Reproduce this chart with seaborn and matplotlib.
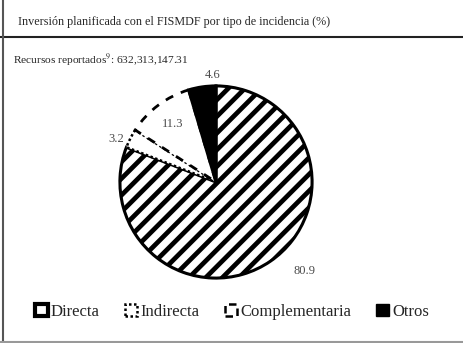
import numpy as np
import matplotlib
matplotlib.use("Agg")
import matplotlib.pyplot as plt
import seaborn as sns
from matplotlib.patches import Patch
from matplotlib.lines import Line2D

# ── data ──────────────────────────────────────────────
categories = ["Directa", "Indirecta", "Complementaria", "Otros"]
values = [80.9, 3.2, 11.3, 4.6]
value_labels = ["80.9", "3.2", "11.3", "4.6"]

title = "Inversión planificada con el FISMDF por tipo de incidencia (%)"
subtitle = "Recursos reportados$^{9}$: 632,313,147.31"

# ── style ─────────────────────────────────────────────
sns.set_style("white")
plt.rcParams["font.family"] = ["Liberation Serif", "DejaVu Serif"]
plt.rcParams["mathtext.fontset"] = "stix"
plt.rcParams["hatch.linewidth"] = 3.4

fig = plt.figure(figsize=(4.64, 3.43), dpi=100)

# pie axes: centre ~(216,182) px, radius ~98 px
W, H = 464, 343
cx, cy, r = 216, 182, 98
ax = fig.add_axes([(cx - r) / W, (H - cy - r) / H, 2 * r / W, 2 * r / H])

wedges, _ = ax.pie(values, startangle=90, counterclock=False, radius=1,
                   colors=["white", "white", "white", "black"],
                   wedgeprops=dict(edgecolor="black", linewidth=2.2))
ax.set_xlim(-1.02, 1.02)
ax.set_ylim(-1.02, 1.02)
ax.axis("off")

wedges[0].set_hatch("//")
wedges[1].set_linestyle((0, (1, 1)))
wedges[1].set_linewidth(1.8)
wedges[2].set_linestyle((0, (3, 3)))
wedges[2].set_linewidth(2)

# value labels (offsets)
label_pos = [(0.92, -0.93), (-1.04, 0.45), (-0.45, 0.60), (-0.03, 1.11)]
for (x, y), lab in zip(label_pos, value_labels):
    ax.text(x, y, lab, ha="center", va="center", fontsize=9, color="#4a4a4a")

# ── texts and frame lines ─────────────────────────────
fig.text(18 / W, 1 - 22 / H, title, fontsize=8.7, va="center", ha="left")
fig.text(13 / W, 1 - 60 / H, subtitle, fontsize=8.2, va="center", ha="left")

fig.add_artist(Line2D([0, 1], [1 - 37 / H] * 2, color="#222222", lw=1.5))
fig.add_artist(Line2D([3 / W] * 2, [0, 1], color="#555555", lw=1.5))
fig.add_artist(Line2D([0, 1], [1.5 / H] * 2, color="#999999", lw=1.5))

# ── legend ────────────────────────────────────────────
handles = [
    Patch(facecolor="white", edgecolor="black", lw=3),
    Patch(facecolor="white", edgecolor="black", ls=(0, (1, 1)), lw=1.8),
    Patch(facecolor="white", edgecolor="black", ls=(0, (3, 2)), lw=1.8),
    Patch(facecolor="black", edgecolor="black"),
]
fig.legend(handles, categories, loc="center", bbox_to_anchor=(232 / W, 1 - 312 / H),
           ncol=4, frameon=False, fontsize=12, handlelength=0.75, handleheight=0.75,
           handletextpad=0.2, columnspacing=1.5)

fig.savefig("out.png", dpi=100)
